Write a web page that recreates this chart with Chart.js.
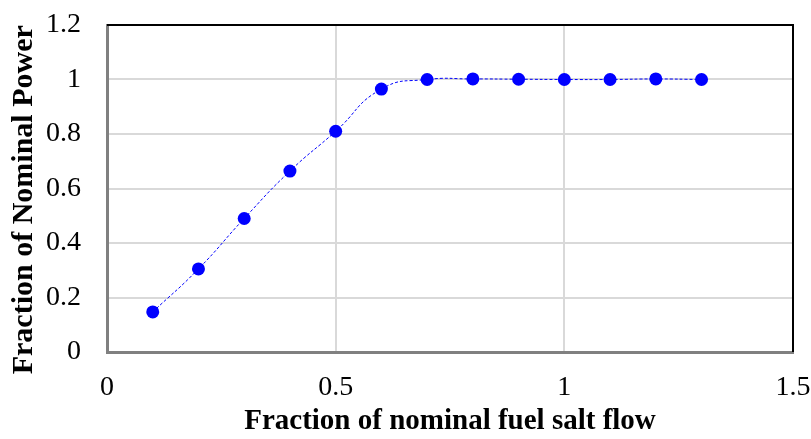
<!DOCTYPE html>
<html>
<head>
<meta charset="utf-8">
<script src="https://cdn.jsdelivr.net/npm/chart.js@4"></script>
<style>
  body { margin: 0; background: #fff; }
  #wrap { width: 811px; height: 439px; }
</style>
</head>
<body>
<div id="wrap"><canvas id="powerChart"></canvas></div>
<script>
// Data
var flowFraction = [0.1, 0.2, 0.3, 0.4, 0.5, 0.6, 0.7, 0.8, 0.9, 1.0, 1.1, 1.2, 1.3];
var powerFraction = [0.147, 0.305, 0.49, 0.664, 0.81, 0.965, 1.0, 1.002, 1.001, 1.0, 1.0, 1.002, 1.0];
var xTicks = [0, 0.5, 1, 1.5];
var yTicks = [0, 0.2, 0.4, 0.6, 0.8, 1, 1.2];

// black frame on top and right like the original
var frameLines = {
    id: 'frameLines',
    afterDraw: function (chart) {
        var a = chart.chartArea, ctx = chart.ctx;
        ctx.save();
        ctx.strokeStyle = '#000';
        ctx.lineWidth = 2;
        ctx.beginPath();
        ctx.moveTo(a.left, a.top);
        ctx.lineTo(a.right, a.top);
        ctx.lineTo(a.right, a.bottom);
        ctx.stroke();
        ctx.restore();
    }
};

document.addEventListener("DOMContentLoaded", function () {
    var ctx = document.getElementById("powerChart").getContext('2d');
    var points = flowFraction.map(function (x, i) { return { x: x, y: powerFraction[i] }; });

    new Chart(ctx, {
        type: 'scatter',
        data: {
            datasets: [{
                data: points,
                showLine: true,
                borderColor: '#0000ff',
                borderWidth: 1,
                borderDash: [3, 2],
                tension: 0.5,
                pointRadius: 6.5,
                pointBackgroundColor: '#0000ff',
                pointBorderWidth: 0
            }]
        },
        options: {
            responsive: true,
            maintainAspectRatio: false,
            animation: false,
            layout: { padding: { top: 25, right: 0, left: 6, bottom: 0 } },
            plugins: { legend: { display: false }, tooltip: { enabled: false } },
            scales: {
                x: {
                    type: 'linear',
                    min: 0, max: 1.5,
                    afterBuildTicks: function (ax) { ax.ticks = xTicks.map(function (v) { return { value: v }; }); },
                    afterFit: function (ax) {
                        ax.height = 87;
                        ax.paddingLeft = 0;
                        ax.paddingRight = 18;
                    },
                    grid: { color: '#d9d9d9', lineWidth: 2, drawTicks: false },
                    border: { color: '#808080', width: 3 },
                    ticks: {
                        padding: 19,
                        color: '#000',
                        font: { family: 'Liberation Serif', size: 28 },
                        callback: function (v) { return String(v); }
                    },
                    title: {
                        display: true,
                        text: 'Fraction of nominal fuel salt flow',
                        color: '#000',
                        font: { family: 'Liberation Serif', size: 29, weight: 'bold' },
                        padding: { top: 0, bottom: 0 }
                    }
                },
                y: {
                    min: 0, max: 1.2,
                    afterBuildTicks: function (ax) { ax.ticks = yTicks.map(function (v) { return { value: v }; }); },
                    afterFit: function (ax) {
                        ax.width = 101;
                        ax.paddingTop = 0;
                        ax.paddingBottom = 0;
                    },
                    grid: { color: '#d9d9d9', lineWidth: 2, drawTicks: false },
                    border: { color: '#808080', width: 3 },
                    ticks: {
                        padding: 26,
                        color: '#000',
                        font: { family: 'Liberation Serif', size: 28 },
                        callback: function (v) { return String(Math.round(v * 10) / 10); }
                    },
                    title: {
                        display: true,
                        // trailing spaces nudge the centred title down a bit, as in the original
                        text: 'Fraction of Nominal Power   ',
                        color: '#000',
                        font: { family: 'Liberation Serif', size: 30, weight: 'bold' },
                        padding: { top: 0, bottom: 4 }
                    }
                }
            }
        },
        plugins: [frameLines]
    });
});
</script>
</body>
</html>
